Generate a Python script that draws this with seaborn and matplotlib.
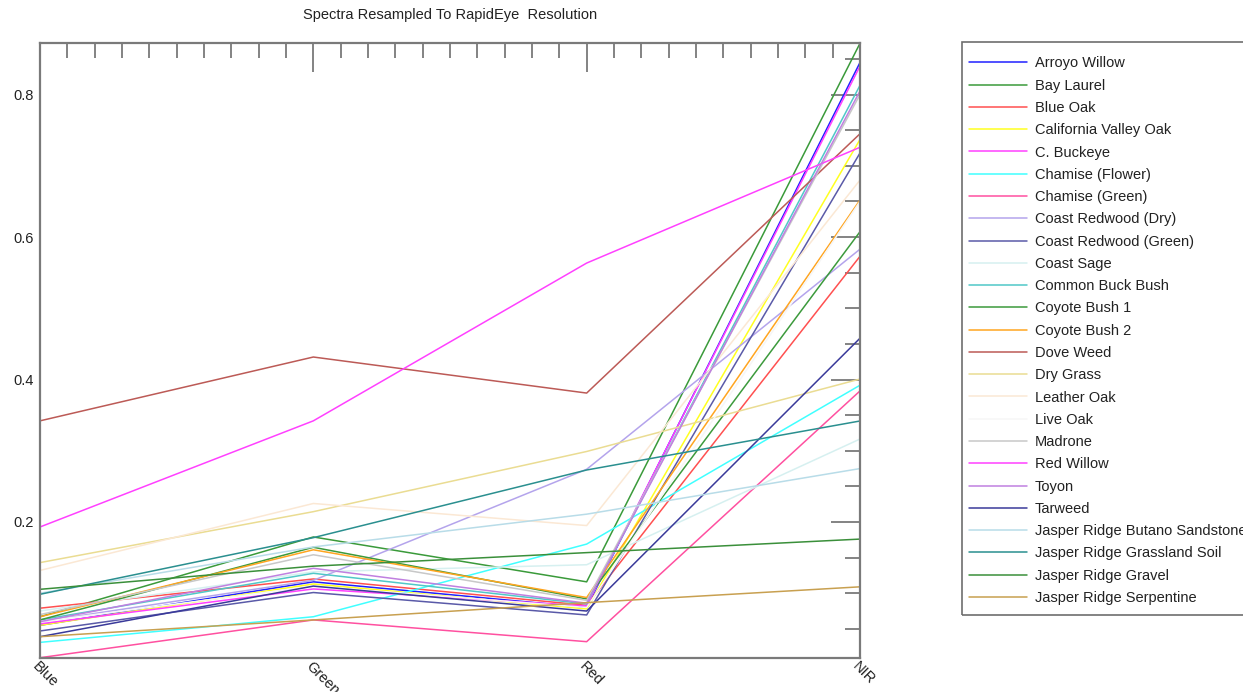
import matplotlib
matplotlib.use("Agg")
import matplotlib.pyplot as plt
from matplotlib.patches import Rectangle
from matplotlib.ticker import MultipleLocator, FixedLocator
import numpy as np
import pandas as pd
import seaborn as sns

# Band names along the x axis
bands = ["Blue", "Green", "Red", "NIR"]

# Material names (legend order)
materials = [
    "Arroyo Willow", "Bay Laurel", "Blue Oak", "California Valley Oak",
    "C. Buckeye", "Chamise (Flower)", "Chamise (Green)", "Coast Redwood (Dry)",
    "Coast Redwood (Green)", "Coast Sage", "Common Buck Bush", "Coyote Bush 1",
    "Coyote Bush 2", "Dove Weed", "Dry Grass", "Leather Oak", "Live Oak",
    "Madrone", "Red Willow", "Toyon", "Tarweed",
    "Jasper Ridge Butano Sandstone", "Jasper Ridge Grassland Soil",
    "Jasper Ridge Gravel", "Jasper Ridge Serpentine",
]

# Reflectance per band (Blue, Green, Red, NIR)
arroyo_willow = [0.055, 0.116, 0.080, 0.845]
bay_laurel = [0.067, 0.179, 0.116, 0.872]
blue_oak = [0.079, 0.120, 0.083, 0.573]
california_valley_oak = [0.055, 0.113, 0.078, 0.737]
c_buckeye = [0.057, 0.106, 0.082, 0.840]
chamise_flower = [0.031, 0.067, 0.169, 0.392]
chamise_green = [0.0095, 0.0625, 0.032, 0.384]
coast_redwood_dry = [0.060, 0.118, 0.274, 0.583]
coast_redwood_green = [0.047, 0.101, 0.0695, 0.718]
coast_sage = [0.075, 0.130, 0.140, 0.3165]
common_buck_bush = [0.0625, 0.128, 0.085, 0.813]
coyote_bush_1 = [0.0625, 0.1645, 0.092, 0.6075]
coyote_bush_2 = [0.067, 0.161, 0.094, 0.652]
dove_weed = [0.342, 0.4316, 0.381, 0.745]
dry_grass = [0.143, 0.2145, 0.299, 0.4007]
leather_oak = [0.132, 0.226, 0.195, 0.680]
live_oak = [0.060, 0.110, 0.080, 0.650]
madrone = [0.070, 0.154, 0.090, 0.800]
red_willow = [0.193, 0.342, 0.5635, 0.726]
toyon = [0.060, 0.135, 0.086, 0.805]
tarweed = [0.039, 0.110, 0.075, 0.458]
butano_sandstone = [0.100, 0.165, 0.211, 0.275]
grassland_soil = [0.0985, 0.178, 0.273, 0.3418]
gravel = [0.1055, 0.138, 0.157, 0.176]
serpentine = [0.039, 0.0625, 0.0868, 0.109]

spectra = [
    arroyo_willow, bay_laurel, blue_oak, california_valley_oak, c_buckeye,
    chamise_flower, chamise_green, coast_redwood_dry, coast_redwood_green,
    coast_sage, common_buck_bush, coyote_bush_1, coyote_bush_2, dove_weed,
    dry_grass, leather_oak, live_oak, madrone, red_willow, toyon, tarweed,
    butano_sandstone, grassland_soil, gravel, serpentine,
]

colors = [
    "#2020ff", "#3a9a3a", "#ff5050", "#ffff20", "#ff40ff", "#40ffff",
    "#ff50a0", "#b4a4ec", "#5a5aa8", "#d6f0f0", "#50c8c8", "#3c9a3c",
    "#ffa520", "#bc5a56", "#eadc92", "#fbe8d4", "#f6f6f6", "#c8c8c8",
    "#ff40ff", "#c080e0", "#3a3a9a", "#b8dce8", "#2a8f8f", "#3a8f3a",
    "#c8a050",
]

rows = []
for name, vals in zip(materials, spectra):
    for i, v in enumerate(vals):
        rows.append({"band": i, "value": v, "material": name})
df = pd.DataFrame(rows)

sns.set_style("white")
plt.rcParams["font.family"] = ["Liberation Sans", "DejaVu Sans"]

W, H = 1243, 692
fig = plt.figure(figsize=(W / 100, H / 100), dpi=100)
x0, x1, y0, y1 = 40, 860, 43.3, 657.7
ax = fig.add_axes([x0 / W, 1 - y1 / H, (x1 - x0) / W, (y1 - y0) / H])

sns.lineplot(
    data=df, x="band", y="value", hue="material", hue_order=materials,
    palette=dict(zip(materials, colors)), estimator=None, sort=False,
    linewidth=1.1, ax=ax,
)

allv = np.concatenate(spectra)
ax.set_xlim(0, len(bands) - 1)
ax.set_ylim(allv.min(), allv.max())

axis_col = "#7a7a7a"
for s in ax.spines.values():
    s.set_visible(True)
    s.set_color(axis_col)
    s.set_linewidth(1.6)

ax.xaxis.set_major_locator(FixedLocator(range(len(bands))))
ax.set_xticklabels(bands)
ax.xaxis.set_minor_locator(MultipleLocator(0.1))
ax.yaxis.set_major_locator(FixedLocator([0.0, 0.2, 0.4, 0.6, 0.8]))
ax.yaxis.set_major_formatter(plt.FuncFormatter(lambda v, p: f"{v:.1f}"))
ax.yaxis.set_minor_locator(MultipleLocator(0.05))

ax.tick_params(which="both", direction="in", color=axis_col, width=1.3,
               top=True, right=True, labelcolor="#222222", labelsize=10.5)
ax.tick_params(which="major", length=21)
ax.tick_params(which="minor", length=10.5)
ax.tick_params(axis="y", which="major", pad=4.3)
ax.tick_params(axis="x", which="major", pad=1.2)
for lab in ax.get_xticklabels():
    lab.set_rotation(-45)
    lab.set_ha("left")
    lab.set_va("top")
    lab.set_rotation_mode("anchor")

ax.set_xlabel("")
ax.set_ylabel("")

handles, labels = ax.get_legend_handles_labels()
ax.get_legend().remove()

# Legend entries without frame; the box is drawn separately
leg = fig.legend(
    handles, labels, loc="upper left",
    bbox_to_anchor=(969 / W, 1 - 56.5 / H), bbox_transform=fig.transFigure,
    frameon=False, fontsize=10.5, handlelength=3.97,
    handletextpad=0.55, labelspacing=0.567, borderpad=0, borderaxespad=0,
)
for t in leg.get_texts():
    t.set_color("#222222")

fig.patches.append(Rectangle(
    (962 / W, 1 - 615 / H), 300 / W, (615 - 42) / H,
    transform=fig.transFigure, fill=False, edgecolor="#6e6e6e",
    linewidth=1.2, zorder=0,
))

fig.text(450 / W, 1 - 14.5 / H, "Spectra Resampled To RapidEye  Resolution",
         ha="center", va="center", fontsize=10.5, color="#222222")

fig.savefig("out.png", dpi=100)
